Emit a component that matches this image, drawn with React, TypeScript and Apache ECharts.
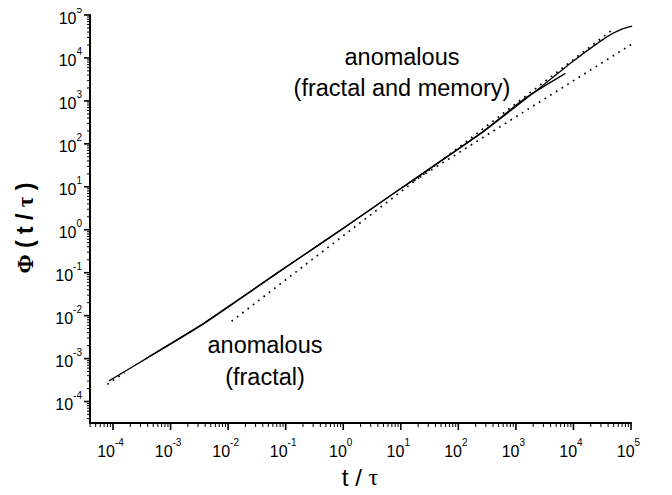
import React, { useEffect, useRef } from "react";
import * as echarts from "echarts";

// All coordinates are base-10 exponents: [log10(t/τ), log10(Φ)]
const xDecades = [-4, -3, -2, -1, 0, 1, 2, 3, 4, 5];
const yDecades = [-4, -3, -2, -1, 0, 1, 2, 3, 4, 5];
const minorMultipliers = [2, 3, 4, 5, 6, 7, 8, 9];

const mainCurve: number[][] = [
  [-4.07, -3.52], [-3.41, -2.99], [-2.46, -2.22], [-1.89, -1.7], [-1.11, -0.98],
  [-0.73, -0.63], [0.0, 0.03], [1.0, 0.96], [2.39, 2.24], [3.43, 3.32],
  [4.0, 3.93], [4.58, 4.49], [4.84, 4.67], [5.02, 4.74],
];
const secondCurve: number[][] = [
  [-3.44, -3.01], [-2.46, -2.21], [-1.89, -1.69], [-1.11, -0.97], [-0.73, -0.63],
  [1.0, 0.96], [2.39, 2.25], [3.17, 3.07], [3.86, 3.64],
];
const fractalFit: number[][] = [[-1.94, -2.13], [4.69, 4.67]];
const memoryFit: number[][] = [[1.23, 1.14], [5.38, 4.63]];
const earlyFit: number[][] = [[-4.1, -3.6], [-3.8, -3.33]];

const X_MIN = -4.4, X_MAX = 5, Y_MIN = -4.5, Y_MAX = 5;

const SANS = "'Liberation Sans', Arial, Helvetica, sans-serif";
const SERIF = "'Liberation Serif', 'Times New Roman', serif";

function buildTicks() {
  const out: number[][] = [];
  // x ticks: kind 1 = major, 0 = minor
  for (let d = -5; d <= 5; d++) {
    if (xDecades.includes(d)) out.push([d, Y_MIN, 1]);
    minorMultipliers.forEach((m) => {
      const v = d + Math.log10(m);
      if (v > X_MIN && v < X_MAX) out.push([v, Y_MIN, 0]);
    });
  }
  // y ticks: kind 3 = major, 2 = minor
  for (let d = -5; d <= 5; d++) {
    if (yDecades.includes(d)) out.push([X_MIN, d, 3]);
    minorMultipliers.forEach((m) => {
      const v = d + Math.log10(m);
      if (v > Y_MIN && v < Y_MAX) out.push([X_MIN, v, 2]);
    });
  }
  return out;
}

const powLabel = (v: number) => {
  const n = Math.round(v);
  if (Math.abs(v - n) > 1e-6) return "";
  return `{b|10}{e|${n}}`;
};

const labelRich = {
  b: { fontSize: 16, fontFamily: SANS, color: "#000", verticalAlign: "bottom", lineHeight: 22 },
  e: { fontSize: 10, fontFamily: SANS, color: "#000", verticalAlign: "top", lineHeight: 13 },
};

export default function App() {
  const ref = useRef<HTMLDivElement>(null);
  useEffect(() => {
    if (!ref.current) return;
    const chart = echarts.init(ref.current, undefined, { renderer: "svg" });
    const solid = { color: "#000", width: 1.3 };
    const dotted = { color: "#000", width: 1.7, type: [1.7, 5] as any };
    chart.setOption({
      animation: false,
      backgroundColor: "#fff",
      grid: { left: 90, right: 41, top: 15, bottom: 72, containLabel: false },
      xAxis: {
        type: "value",
        min: X_MIN,
        max: X_MAX,
        splitNumber: 10,
        axisLine: { onZero: false, lineStyle: { color: "#000", width: 2 } },
        axisTick: { show: false },
        splitLine: { show: false },
        axisLabel: { formatter: powLabel, rich: labelRich, margin: 14, padding: [0, 5, 0, 0], showMinLabel: true },
      },
      yAxis: {
        type: "value",
        min: Y_MIN,
        max: Y_MAX,
        splitNumber: 10,
        axisLine: { onZero: false, lineStyle: { color: "#000", width: 2 } },
        axisTick: { show: false },
        splitLine: { show: false },
        axisLabel: { formatter: powLabel, rich: labelRich, margin: 8 },
      },
      series: [
        { type: "line", data: mainCurve, showSymbol: false, smooth: 0.15, clip: false, lineStyle: solid, z: 3 },
        { type: "line", data: secondCurve, showSymbol: false, smooth: 0.15, clip: false, lineStyle: solid, z: 3 },
        { type: "line", data: fractalFit, showSymbol: false, clip: false, lineStyle: dotted, z: 2 },
        { type: "line", data: memoryFit, showSymbol: false, clip: false, lineStyle: dotted, z: 2 },
        { type: "line", data: earlyFit, showSymbol: false, clip: false, lineStyle: dotted, z: 2 },
        {
          type: "custom",
          clip: false,
          silent: true,
          z: 5,
          data: buildTicks(),
          renderItem: (params: any, api: any) => {
            const kind = api.value(2);
            const p = api.coord([api.value(0), api.value(1)]);
            if (kind <= 1) {
              const len = kind === 1 ? 7 : 4;
              return {
                type: "line",
                shape: { x1: p[0], y1: p[1], x2: p[0], y2: p[1] + len },
                style: { stroke: "#000", lineWidth: kind === 1 ? 1.6 : 1 },
              };
            }
            const len = kind === 3 ? 6 : 3;
            return {
              type: "line",
              shape: { x1: p[0], y1: p[1], x2: p[0] - len, y2: p[1] },
              style: { stroke: "#000", lineWidth: kind === 3 ? 1.6 : 1 },
            };
          },
        },
      ],
      graphic: [
        {
          type: "text",
          x: 402,
          y: 72.5,
          style: {
            text: "anomalous\n(fractal and memory)",
            font: `23.5px ${SANS}`,
            fill: "#000",
            align: "center",
            verticalAlign: "middle",
            lineHeight: 31,
          },
        },
        {
          type: "text",
          x: 265,
          y: 361,
          style: {
            text: "anomalous\n(fractal)",
            font: `23.5px ${SANS}`,
            fill: "#000",
            align: "center",
            verticalAlign: "middle",
            lineHeight: 32,
          },
        },
        {
          type: "text",
          x: 360,
          y: 477,
          style: {
            text: "{s|t / }{g|τ}",
            align: "center",
            verticalAlign: "middle",
            rich: {
              s: { fontSize: 24, fontFamily: SANS, fill: "#000" },
              g: { fontSize: 24, fontFamily: SERIF, fill: "#000" },
            },
          },
        },
        {
          type: "text",
          x: 25,
          y: 228,
          rotation: Math.PI / 2,
          style: {
            text: "{g|Φ}{s| ( t / }{g|τ}{s| )}",
            align: "center",
            verticalAlign: "middle",
            rich: {
              s: { fontSize: 23, fontWeight: "bold", fontFamily: SANS, fill: "#000" },
              g: { fontSize: 23, fontWeight: "bold", fontFamily: SERIF, fill: "#000" },
            },
          },
        },
      ],
    });
    return () => chart.dispose();
  }, []);
  return <div ref={ref} style={{ width: 672, height: 495, margin: -8 }} />;
}
